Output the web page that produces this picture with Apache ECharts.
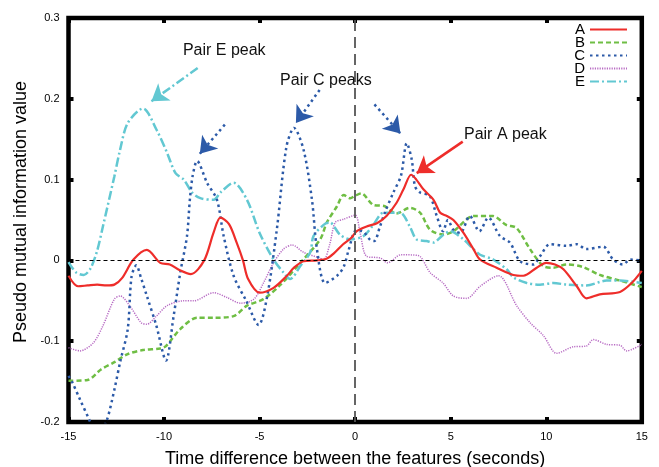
<!DOCTYPE html>
<html lang="en">
<head>
    <meta charset="UTF-8">
    <title>Pseudo mutual information</title>
    <style>
        * {
            margin: 0px;
            padding: 0px;
        }

        body {
            background-color: #ffffff;
        }

        #main {
            width: 659px;
            height: 467px;
        }
    </style>
</head>
<body>
<div id="main"></div>
<script src="https://cdn.jsdelivr.net/npm/echarts@6/dist/echarts.min.js"></script>
<script type="text/javascript">
    // values, [time (s), value]
    var pairNames = ['A', 'B', 'C', 'D', 'E'];
    var xTickLabels = ['-15', '-10', '-5', '0', '5', '10', '15'];
    var yTickLabels = ['-0.2', '-0.1', '0', '0.1', '0.2', '0.3'];

    var pairA = [[-15, -0.019], [-14.5, -0.032], [-14, -0.031], [-13.5, -0.030], [-13, -0.031], [-12.6, -0.030],
        [-12.2, -0.022], [-11.6, 0.001], [-10.9, 0.013], [-10.2, -0.003], [-9.7, -0.005], [-9.2, -0.012],
        [-8.6, -0.017], [-7.9, 0.0], [-7.4, 0.035], [-7.05, 0.053], [-6.6, 0.045], [-6.2, 0.022], [-5.87, 0.0],
        [-5.6, -0.023], [-5.0, -0.040], [-4.27, -0.034], [-3.57, -0.019], [-3.2, -0.009], [-2.7, -0.001],
        [-2.0, 0.0], [-1.5, 0.002], [-1.1, 0.009], [-0.63, 0.02], [-0.2, 0.028], [0.07, 0.036], [0.6, 0.042],
        [1.14, 0.046], [1.64, 0.055], [2.16, 0.071], [2.53, 0.088], [2.93, 0.106], [3.2, 0.100], [3.57, 0.088],
        [4.1, 0.075], [4.45, 0.059], [4.8, 0.055], [5.14, 0.05], [5.67, 0.034], [6.19, 0.014], [6.54, 0.001],
        [7.4, -0.009], [8.28, -0.018], [8.8, -0.019], [9.5, -0.009], [10.0, -0.003], [10.46, -0.005],
        [10.9, -0.011], [11.6, -0.032], [12.1, -0.047], [12.8, -0.042], [13.86, -0.039], [14.47, -0.028],
        [15, -0.013]];

    var pairB = [[-15, -0.149], [-14.0, -0.148], [-13.3, -0.135], [-12.6, -0.126], [-11.9, -0.116], [-11.1, -0.111],
        [-10.2, -0.109], [-9.9, -0.106], [-9.15, -0.085], [-8.27, -0.071], [-7.4, -0.071], [-6.36, -0.069],
        [-5.66, -0.056], [-4.8, -0.048], [-3.9, -0.030], [-2.87, -0.003], [-1.83, 0.026], [-1.48, 0.047],
        [-0.95, 0.067], [-0.6, 0.081], [-0.26, 0.077], [0.0, 0.08], [0.32, 0.083], [0.93, 0.069], [1.55, 0.067],
        [2.15, 0.058], [2.86, 0.065], [3.4, 0.059], [3.92, 0.038], [4.6, 0.032], [5.14, 0.036], [5.84, 0.051],
        [6.19, 0.055], [7.2, 0.055], [7.9, 0.044], [8.45, 0.040], [9.15, 0.014], [9.85, -0.007], [10.37, -0.009],
        [11.07, -0.005], [11.9, -0.008], [12.8, -0.018], [13.86, -0.025], [15, -0.033]];

    var pairC = [[-15, -0.143], [-14.8, -0.151], [-14.4, -0.172], [-13.9, -0.198], [-13.5, -0.22], [-13.0, -0.198],
        [-12.6, -0.16], [-12.3, -0.126], [-11.9, -0.085], [-11.7, -0.02], [-11.45, -0.006], [-11.2, -0.022],
        [-10.9, -0.044], [-10.4, -0.081], [-9.9, -0.124], [-9.5, -0.069], [-9.15, -0.015], [-8.8, 0.03],
        [-8.65, 0.075], [-8.5, 0.105], [-8.27, 0.123], [-7.75, 0.096], [-7.23, 0.075], [-6.88, 0.03],
        [-6.36, -0.019], [-5.7, -0.05], [-5.05, -0.08], [-4.6, -0.044], [-4.1, 0.038], [-3.6, 0.14],
        [-3.2, 0.164], [-2.7, 0.137], [-2.26, 0.075], [-2.0, 0.014], [-1.57, -0.028], [-0.95, -0.019],
        [-0.6, -0.008], [-0.35, 0.012], [0.05, 0.037], [0.4, 0.036], [0.8, 0.025], [1.0, 0.024], [1.3, 0.042],
        [1.55, 0.059], [2.0, 0.084], [2.4, 0.105], [2.7, 0.145], [2.96, 0.125], [3.13, 0.092], [3.4, 0.084],
        [3.9, 0.080], [4.27, 0.055], [4.6, 0.036], [4.85, 0.05], [5.14, 0.038], [5.5, 0.034], [6.0, 0.055],
        [6.5, 0.036], [6.97, 0.053], [7.58, 0.030], [8.1, 0.022], [8.63, -0.001], [9.32, -0.005], [9.67, 0.005],
        [10.2, 0.02], [11.07, 0.018], [11.6, 0.02], [12.1, 0.014], [12.98, 0.017], [13.5, 0.001], [14.0, -0.005],
        [14.4, 0.001], [15, 0.0]];

    var pairD = [[-15, -0.108], [-14.4, -0.112], [-13.7, -0.102], [-13.2, -0.081], [-12.6, -0.048], [-12.3, -0.044],
        [-11.8, -0.056], [-11.2, -0.077], [-10.9, -0.079], [-10.4, -0.069], [-9.84, -0.056], [-8.97, -0.050],
        [-8.45, -0.050], [-7.4, -0.040], [-6.7, -0.046], [-6.0, -0.053], [-5.3, -0.048], [-4.8, -0.028],
        [-4.27, -0.003], [-3.75, 0.014], [-3.3, 0.019], [-2.7, 0.010], [-2.0, 0.004], [-1.65, 0.001],
        [-1.33, 0.02], [-1.04, 0.047], [-0.6, 0.051], [0.0, 0.056], [0.26, 0.034], [0.6, 0.005], [1.31, 0.003],
        [1.7, -0.003], [2.4, 0.007], [3.3, 0.006], [3.92, -0.015], [4.6, -0.028], [5.14, -0.044], [5.84, -0.047],
        [6.54, -0.032], [7.5, -0.019], [8.45, -0.056], [9.15, -0.077], [9.85, -0.093], [10.55, -0.115],
        [11.4, -0.107], [12.1, -0.106], [12.46, -0.098], [13.16, -0.104], [13.86, -0.105], [14.2, -0.112],
        [15, -0.104]];

    var pairE = [[-15, -0.002], [-14.6, -0.015], [-14.2, -0.018], [-13.85, -0.01], [-13.5, 0.012], [-13.2, 0.042],
        [-12.6, 0.104], [-12.3, 0.137], [-11.9, 0.170], [-11.1, 0.188], [-10.4, 0.162], [-9.84, 0.133],
        [-9.4, 0.108], [-8.97, 0.100], [-8.53, 0.084], [-8.1, 0.077], [-7.4, 0.075], [-7.05, 0.084],
        [-6.36, 0.096], [-5.66, 0.075], [-5.0, 0.034], [-4.27, 0.001], [-3.75, -0.015], [-3.4, -0.023],
        [-2.87, -0.007], [-2.35, 0.010], [-2.18, 0.030], [-1.65, 0.044], [-1.33, 0.047], [-0.8, 0.032],
        [-0.27, 0.026], [0.43, 0.030], [0.95, 0.044], [1.48, 0.059], [2.35, 0.059], [2.86, 0.042], [3.21, 0.026],
        [3.73, 0.024], [4.1, 0.022], [4.53, 0.030], [4.97, 0.036], [5.67, 0.026], [6.19, 0.014], [6.54, 0.007],
        [7.23, 0.001], [7.93, -0.011], [8.28, -0.021], [8.98, -0.028], [9.67, -0.030], [10.37, -0.028],
        [11.07, -0.030], [12.1, -0.031], [13.16, -0.025], [13.86, -0.025], [15, -0.028]];

    // annotation arrows: [from, to] in data coordinates
    var arrowE = [[[-8.24, 0.238], [-10.66, 0.197]]];
    var arrowsC = [[[-6.82, 0.168], [-8.13, 0.132]], [[-1.86, 0.211], [-3.1, 0.170]], [[1.01, 0.193], [2.37, 0.157]]];
    var arrowA = [[[5.63, 0.147], [3.22, 0.108]]];
    var notes = [['Pair E peak', -6.85, 0.260], ['Pair C peaks', -1.53, 0.223], ['Pair A peak', 7.86, 0.156]];

    var fontName = '"Liberation Sans", Arial, sans-serif';

    function arrowLines(list, color, type) {
        return {
            silent: true,
            symbol: ['none', 'arrow'],
            symbolSize: 16,
            label: {show: false},
            lineStyle: {color: color, width: 2.5, type: type, opacity: 1},
            emphasis: {disabled: true},
            data: list.map(function (a) {
                return [{coord: a[0]}, {coord: a[1]}];
            })
        };
    }

    function pairSeries(name, data, color, width, type, arrows) {
        var s = {
            name: name,
            type: 'line',
            data: data,
            smooth: 0.3,
            symbol: 'none',
            clip: true,
            lineStyle: {color: color, width: width, type: type},
            itemStyle: {color: color}
        };
        if (arrows) {
            s.markLine = arrowLines(arrows, color, type);
        }
        return s;
    }

    var tick = {inside: true, length: 5, lineStyle: {color: '#000', width: 4}};

    var myChart = echarts.init(document.getElementById('main'));
    myChart.setOption({
        animation: false,
        textStyle: {fontFamily: fontName},
        grid: {
            left: 68.5,
            right: 17.2,
            top: 18,
            bottom: 45,
            containLabel: false,
            outerBoundsMode: 'none',
            show: true,
            borderColor: '#000',
            borderWidth: 4.5
        },
        legend: {
            data: pairNames,
            orient: 'vertical',
            align: 'right',
            right: 31,
            top: 22,
            padding: 0,
            itemWidth: 37,
            itemHeight: 10,
            itemGap: -2,
            itemStyle: {opacity: 0},
            textStyle: {fontSize: 15, color: '#000', fontFamily: fontName}
        },
        xAxis: [{
            type: 'value',
            min: -15,
            max: 15,
            interval: 5,
            name: 'Time difference between the features (seconds)',
            nameLocation: 'middle',
            nameGap: 28,
            nameTextStyle: {fontSize: 18, color: '#000'},
            axisLine: {show: false, onZero: false},
            axisTick: tick,
            axisLabel: {
                margin: 9, fontSize: 11, color: '#000',
                formatter: function (v, i) { return xTickLabels[i]; }
            },
            splitLine: {show: false}
        }, {
            type: 'value',
            position: 'top',
            min: -15,
            max: 15,
            interval: 5,
            axisLine: {show: false, onZero: false},
            axisTick: tick,
            axisLabel: {show: false},
            splitLine: {show: false}
        }],
        yAxis: [{
            type: 'value',
            min: -0.2,
            max: 0.3,
            interval: 0.1,
            name: 'Pseudo mutual information value',
            nameLocation: 'middle',
            nameGap: 38,
            nameTextStyle: {fontSize: 18, color: '#000', padding: [0, 0, 0, 16]},
            axisLine: {show: false, onZero: false},
            axisTick: tick,
            axisLabel: {
                margin: 9, fontSize: 11, color: '#000',
                formatter: function (v, i) { return yTickLabels[i]; }
            },
            splitLine: {show: false}
        }, {
            type: 'value',
            position: 'right',
            min: -0.2,
            max: 0.3,
            interval: 0.1,
            axisLine: {show: false, onZero: false},
            axisTick: tick,
            axisLabel: {show: false},
            splitLine: {show: false}
        }],
        series: [
            {
                name: 'guides',
                type: 'line',
                data: [],
                symbol: 'none',
                markLine: {
                    silent: true,
                    symbol: 'none',
                    label: {show: false},
                    emphasis: {disabled: true},
                    data: [
                        {yAxis: 0, lineStyle: {color: '#000', width: 1, type: [4, 3], opacity: 1}},
                        {xAxis: 0, lineStyle: {color: '#555', width: 1.8, type: [11, 6], opacity: 1}}
                    ]
                },
                markPoint: {
                    silent: true,
                    symbol: 'rect',
                    symbolSize: 1,
                    itemStyle: {color: 'rgba(0,0,0,0)'},
                    label: {
                        show: true,
                        position: 'inside',
                        formatter: '{b}',
                        fontSize: 16,
                        color: '#111',
                        fontFamily: fontName
                    },
                    data: notes.map(function (n) {
                        return {name: n[0], coord: [n[1], n[2]]};
                    })
                }
            },
            pairSeries('D', pairD, '#b86cc4', 1.5, [1.2, 1.2], null),
            pairSeries('B', pairB, '#6fbe44', 2.5, [5, 3], null),
            pairSeries('E', pairE, '#62c8d2', 2.5, [9, 3, 2, 3], arrowE),
            pairSeries('C', pairC, '#2c5aa8', 2.5, [2.5, 3.5], arrowsC),
            pairSeries('A', pairA, '#ee2d2a', 2.2, 'solid', arrowA)
        ]
    });
</script>
</body>
</html>
